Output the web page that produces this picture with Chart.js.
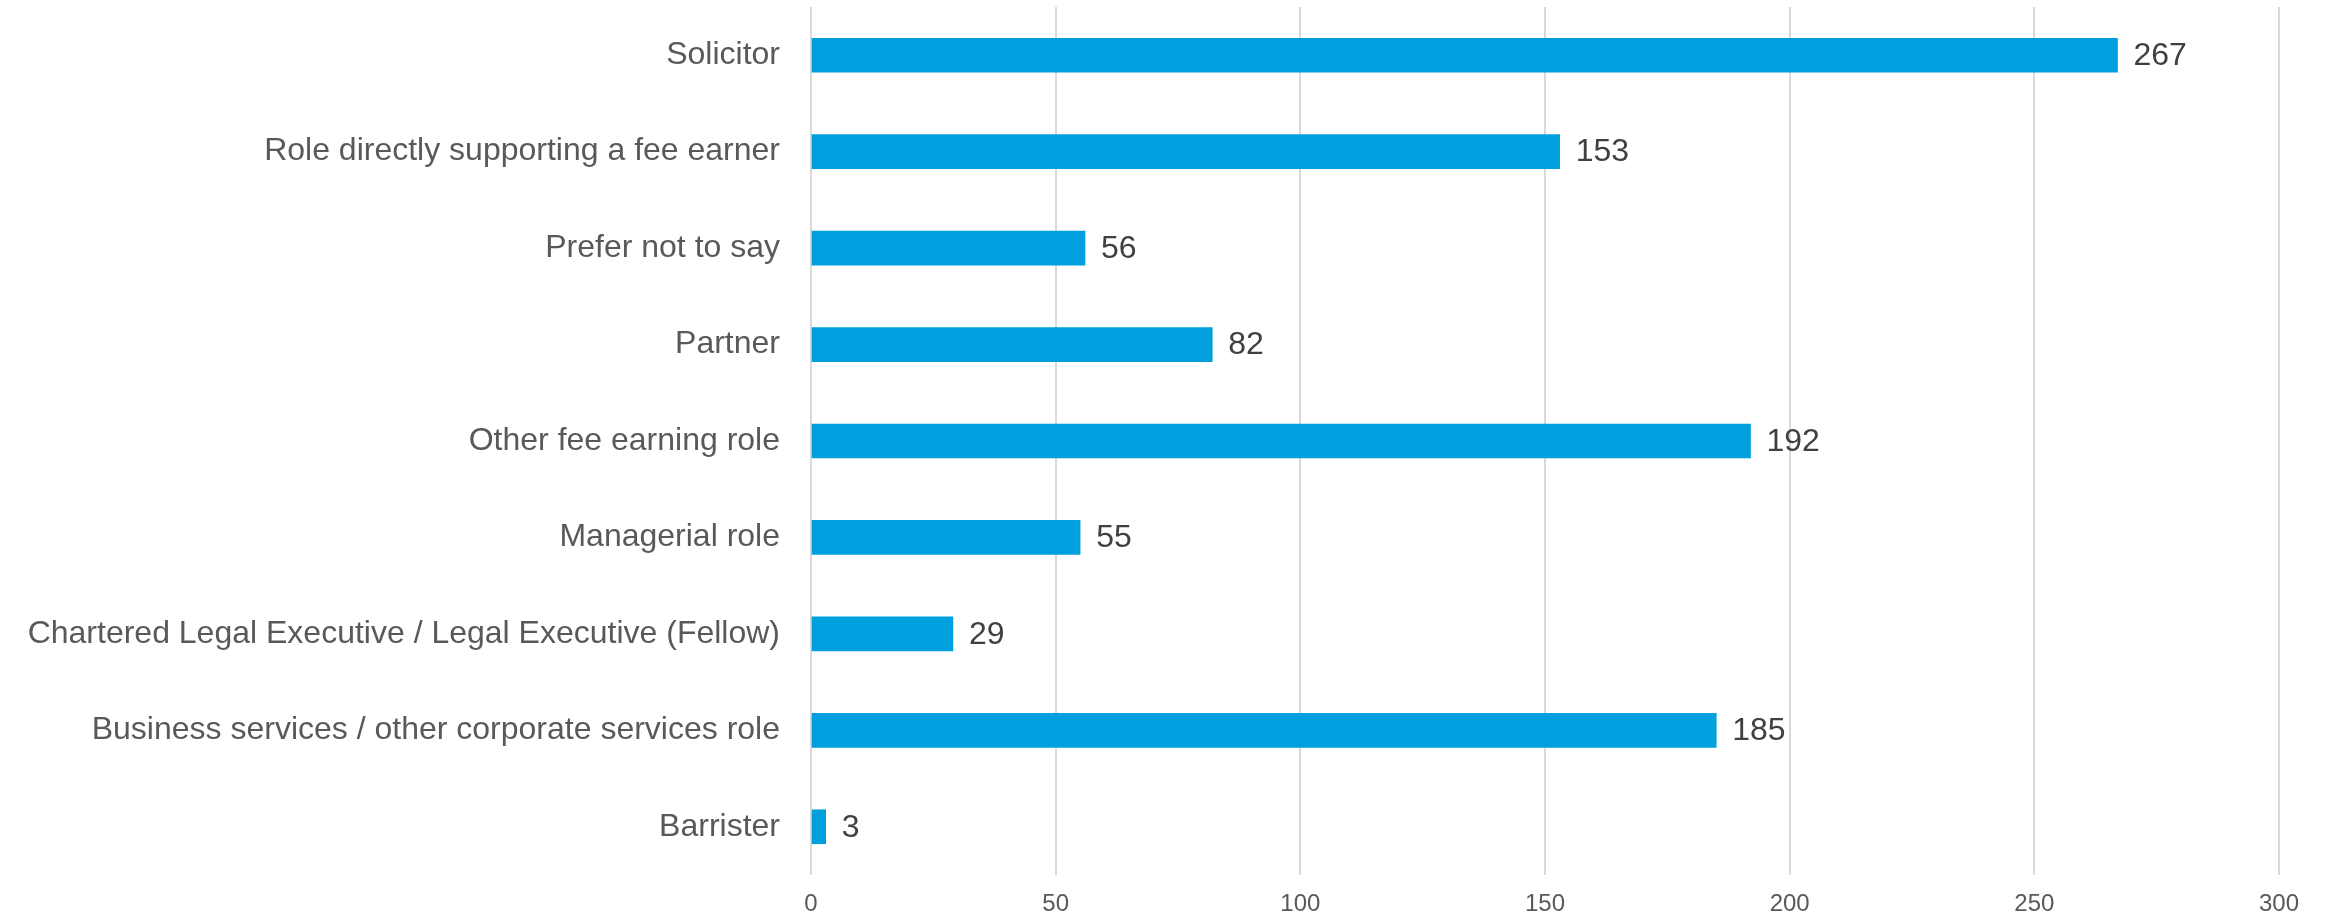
<!DOCTYPE html>
<html>
<head>
<meta charset="utf-8">
<script src="https://cdn.jsdelivr.net/npm/chart.js@4/dist/chart.umd.min.js"></script>
<style>
html,body{margin:0;padding:0;background:#fff;}
#wrap{width:2325px;height:917px;position:relative;}
</style>
</head>
<body>
<div id="wrap"><canvas id="c" width="2325" height="917"></canvas></div>
<script>
const categories = [
  "Solicitor",
  "Role directly supporting a fee earner",
  "Prefer not to say",
  "Partner",
  "Other fee earning role",
  "Managerial role",
  "Chartered Legal Executive / Legal Executive (Fellow)",
  "Business services / other corporate services role",
  "Barrister"
];
const counts = [267, 153, 56, 82, 192, 55, 29, 185, 3];
const xTicks = [0, 50, 100, 150, 200, 250, 300];

const FONT = "'Liberation Sans', Arial, sans-serif";

const valueLabels = {
  id: 'valueLabels',
  afterDatasetsDraw(chart) {
    const ctx = chart.ctx;
    const meta = chart.getDatasetMeta(0);
    ctx.save();
    ctx.font = "32px " + FONT;
    ctx.fillStyle = "#404040";
    ctx.textAlign = "left";
    ctx.textBaseline = "middle";
    meta.data.forEach((bar, i) => {
      ctx.fillText(String(counts[i]), bar.x + 16, bar.y + 1);
    });
    ctx.restore();
  }
};

new Chart(document.getElementById('c'), {
  type: 'bar',
  data: {
    labels: categories,
    datasets: [{
      data: counts,
      backgroundColor: '#00A0DF',
      borderWidth: 0,
      barThickness: 34
    }]
  },
  options: {
    indexAxis: 'y',
    responsive: false,
    animation: false,
    events: [],
    layout: { padding: { left: 0, right: 46, top: 7, bottom: 0 } },
    plugins: { legend: { display: false }, tooltip: { enabled: false } },
    scales: {
      x: {
        min: 0, max: 300,
        afterBuildTicks(axis) { axis.ticks = xTicks.map(v => ({ value: v })); },
        afterFit(axis) { axis.height = 42; axis.paddingLeft = 0; axis.paddingRight = 0; },
        grid: { color: '#D9D9D9', lineWidth: 2, drawTicks: false },
        border: { display: false },
        ticks: { color: '#595959', font: { family: FONT, size: 24 }, padding: 15 }
      },
      y: {
        afterFit(axis) { axis.width = 811; axis.paddingTop = 0; axis.paddingBottom = 0; },
        grid: { display: false, drawTicks: false },
        border: { display: false },
        ticks: { color: '#595959', font: { family: FONT, size: 32 }, padding: 31, autoSkip: false }
      }
    }
  },
  plugins: [valueLabels]
});
</script>
</body>
</html>
